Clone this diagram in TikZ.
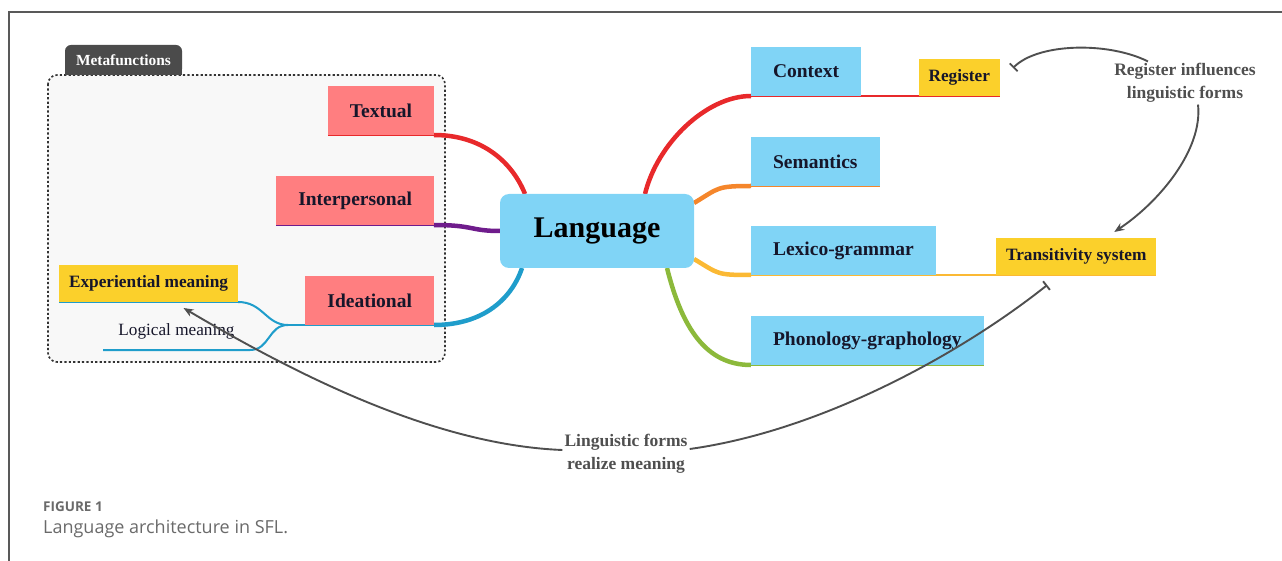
\documentclass[tikz,border=0pt]{standalone}
\usepackage{fontspec}
\setmainfont{Liberation Serif}
\newfontfamily\capfont{Open Sans}
\usetikzlibrary{arrows.meta,backgrounds}

\definecolor{skyfill}{HTML}{80D4F6}
\definecolor{rosefill}{HTML}{FF7E80}
\definecolor{tagyellow}{HTML}{FBD02B}
\definecolor{inkdark}{HTML}{16162A}
\definecolor{tabgray}{HTML}{4B4B4B}
\definecolor{panelgray}{HTML}{F8F8F8}
\definecolor{brred}{HTML}{E8292B}
\definecolor{brpurple}{HTML}{6F1C8C}
\definecolor{brteal}{HTML}{1F9DCB}
\definecolor{brorange}{HTML}{F5862B}
\definecolor{brgold}{HTML}{FBB934}
\definecolor{brgreen}{HTML}{8CB93B}
\definecolor{notegray}{HTML}{4F4F4F}
\definecolor{capgray}{HTML}{6A6A6A}

\begin{document}
\begin{tikzpicture}[x=1pt,y=-1pt,
    topic/.style={font=\fontsize{19.5}{23}\selectfont\bfseries, text=inkdark,
                  inner xsep=22pt, inner ysep=0pt, minimum height=49pt, outer sep=0pt},
    stratum/.style={topic, fill=skyfill, anchor=south west},
    metafn/.style={topic, fill=rosefill, anchor=south east},
    tag/.style={font=\fontsize{17.3}{20}\selectfont\bfseries, text=inkdark, fill=tagyellow,
                inner xsep=10pt, inner ysep=0pt, minimum height=37pt, outer sep=0pt},
    limb/.style={line width=4.5pt},
    twig/.style={line width=2.2pt},
    note/.style={font=\fontsize{17.5}{22.5}\selectfont\bfseries, text=notegray,
                 align=center, inner sep=2pt},
    remark/.style={draw=notegray, line width=1.9pt}]

    \useasboundingbox (0,0) rectangle (1282,561);
    \draw[black!65, line width=1.2pt] (9,561) -- (9,12) -- (1282,12);

    % metafunctions panel
    \begin{scope}[on background layer]
        \draw[fill=panelgray, draw=black!80, line width=1.6pt, rounded corners=9pt,
              dash pattern=on 2.2pt off 2.2pt] (48,75) rectangle (445,362);
    \end{scope}
    \node[fill=tabgray, text=white, rounded corners=6pt, minimum width=117pt, minimum height=30pt,
          inner sep=0pt, outer sep=0pt, font=\fontsize{15.4}{18}\selectfont\bfseries] (tab) at (123.5,60) {Metafunctions};
    \begin{scope}[on background layer]
        \fill[tabgray] (tab.south west) rectangle (tab.east);
    \end{scope}

    \node[metafn] (textual) at (434,135) {Textual};
    \node[metafn] (interp)  at (434,225) {Interpersonal};
    \node[metafn] (ideat)   at (434,325) {Ideational};
    \node[tag, anchor=south west] (exper) at (59,302) {Experiential meaning};
    \node[font=\fontsize{17.2}{20}\selectfont, text=inkdark, anchor=south west, minimum width=147pt,
          minimum height=37pt, inner sep=0pt, outer sep=0pt] (logical) at (103,350) {Logical meaning};
    \coordinate (split) at (288,325);

    \node[fill=skyfill, rounded corners=9pt, minimum width=194pt, minimum height=74pt, outer sep=0pt,
          font=\fontsize{30}{34}\selectfont\bfseries, text=black] (lang) at (597,231) {Language};

    \node[stratum] (context) at (751,96)  {Context};
    \node[stratum] (seman)   at (751,186) {Semantics};
    \node[stratum] (lexico)  at (751,275) {Lexico-grammar};
    \node[stratum] (phono)   at (751,365) {Phonology-graphology};
    \node[tag, anchor=south east] (register) at (1000,96)  {Register};
    \node[tag, anchor=south west] (trans)    at (996,275)  {Transitivity system};

    % branches
    \begin{scope}[on background layer]
        \draw[brred, limb] (textual.south east) .. controls +(50,0) and +(-12,-30) .. ([xshift=25pt]lang.north west);
        \draw[brpurple, limb] (interp.south east) .. controls +(40,0) and +(-30,0) .. (lang.west);
        \draw[brteal, limb] (ideat.south east) .. controls +(50,0) and +(-10,30) .. ([xshift=22pt]lang.south west);
        \draw[brred, limb] ([xshift=48pt]lang.north) .. controls +(12,-50) and +(-45,0) .. (context.south west);
        \draw[brorange, limb] ([yshift=28pt]lang.east) .. controls +(25,-15) and +(-35,0) .. (seman.south west);
        \draw[brgold, limb] ([yshift=-28pt]lang.east) .. controls +(25,15) and +(-35,0) .. (lexico.south west);
        \draw[brgreen, limb] ([xshift=70pt]lang.south) .. controls +(15,60) and +(-45,0) .. (phono.south west);

        \draw[brred, twig] (textual.south west) -- ([xshift=11pt]textual.south east);
        \draw[brpurple, twig] (interp.south west) -- ([xshift=11pt]interp.south east);
        \draw[brteal, twig] (split) -- ([xshift=11pt]ideat.south east);
        \draw[brteal, line width=2pt] (exper.south west) -- (exper.south east)
            .. controls +(25,0) and +(-22,0) .. (split);
        \draw[brteal, line width=2pt] (logical.south west) -- (logical.south east)
            .. controls +(20,0) and +(-20,0) .. (split);
        \draw[brred, twig] (context.south west) -- (register.south east);
        \draw[brorange, twig] (seman.south west) -- (seman.south east);
        \draw[brgold, twig] (lexico.south west) -- (trans.south east);
        \draw[brgreen, twig] (phono.south west) -- (phono.south east);
    \end{scope}

    % remarks
    \node[note] (regnote)  at (1185,83)  {Register influences\\linguistic forms};
    \node[note] (lingnote) at (626,454) {Linguistic forms\\realize meaning};

    \draw[remark, -{Bar[width=11pt]}] ([xshift=-37pt]regnote.north)
        .. controls +(-40,-20) and +(25,-25) .. ([shift={(13pt,-9pt)}]register.north east);
    \draw[remark, -{Stealth[length=10pt,width=8pt]}] ([xshift=13pt]regnote.south)
        .. controls +(5,45) and +(45,-30) .. ([shift={(38pt,6pt)}]trans.north);
    \draw[remark, -{Stealth[length=10pt,width=8pt]}] ([yshift=4pt]lingnote.west)
        .. controls +(-124,-5) and +(120,71) .. ([shift={(35pt,-6pt)}]exper.south);
    \draw[remark, -{Bar[width=11pt]}] ([yshift=5pt]lingnote.east)
        .. controls +(130,-18) and +(-88,70) .. ([shift={(-29pt,-10pt)}]trans.south);

    % caption
    \node[anchor=base west, inner sep=0pt, text=capgray,
          font=\capfont\fontsize{13.5}{15}\selectfont\bfseries] (figno) at (43,511) {FIGURE 1};
    \node[anchor=base west, inner sep=0pt, text=capgray,
          font=\capfont\fontsize{18}{21}\selectfont] (figcap) at (43,533) {Language architecture in SFL.};
\end{tikzpicture}
\end{document}
